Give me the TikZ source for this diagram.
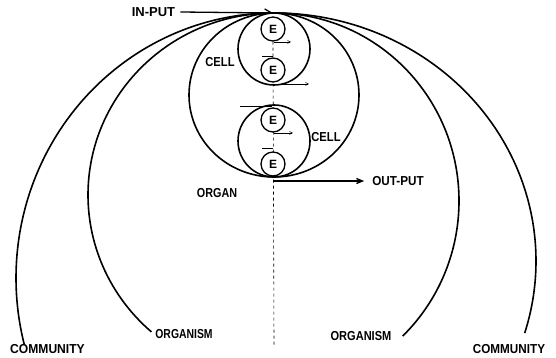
\documentclass[tikz,border=0pt]{standalone}
\usepackage{fontspec}
\usepackage{graphicx}
\setmainfont{Liberation Sans}
\usetikzlibrary{arrows.meta,shapes.geometric}
\newcommand\sqz[2]{\scalebox{#1}[1]{#2}}
\begin{document}
\begin{tikzpicture}[x=1pt,y=1pt,
  heavy/.style={line width=1.6pt},
  flow/.style={line width=0.5pt,-{Straight Barb[length=3pt,width=3pt]}},
  enz/.style={circle,draw,line width=1.3pt,fill=white,minimum size=24pt,inner sep=0pt,font=\fontsize{12}{12}\selectfont\bfseries},
  lbl/.style={inner sep=0pt,font=\fontsize{13}{13}\selectfont\bfseries}]
\useasboundingbox (0,0) rectangle (556,358);
% common top point and bottom ends
\coordinate (T) at (274,345);
\coordinate (B) at (274,177);
\coordinate (dashend) at (274,13);
% organ and cells
\node[ellipse,draw,heavy,minimum width=170pt,minimum height=164pt,inner sep=0pt] (organ) at (274,263) {};
\node[circle,draw,heavy,minimum size=72pt,inner sep=0pt] (cellA) at (274,309) {};
\node[circle,draw,heavy,minimum size=72pt,inner sep=0pt] (cellB) at (274,217) {};
% dashed axis
\node[enz] (E1) at (273,329) {E};
\draw[dashed,line width=0.6pt] (E1.south) -- (dashend);
\node[enz] (E2) at (273,288) {E};
\node[enz] (E3) at (273,238) {E};
\node[enz] (E4) at (273,194) {E};
% big arcs
\draw[heavy] (T) arc[start angle=90,end angle=194.6,x radius=258pt,y radius=265pt] coordinate (commL);
\draw[heavy] (T) arc[start angle=90,end angle=228.8,x radius=186pt,y radius=182pt] coordinate (orgL);
\draw[heavy] (T) arc[start angle=90,end angle=-16.9,x radius=262pt,y radius=248pt] coordinate (commR);
\draw[heavy] (T) arc[start angle=90,end angle=-45.9,x radius=185pt,y radius=188pt] coordinate (orgR);
% small flow arrows
\coordinate (f1a) at (274,316); \coordinate (f1b) at (291,316);
\coordinate (f2a) at (262,302); \coordinate (f2b) at (273,302);
\coordinate (f3a) at (276,274); \coordinate (f3b) at (309,274);
\coordinate (f4a) at (240,252); \coordinate (f4b) at (272,252);
\coordinate (f5a) at (274,225); \coordinate (f5b) at (293,225);
\coordinate (f6a) at (262,210); \coordinate (f6b) at (273,210);
\draw[flow] (f1a) -- (f1b);
\draw[line width=0.5pt] (f2a) -- (f2b);
\draw[flow] (f3a) -- (f3b);
\draw[line width=0.5pt] (f4a) -- (f4b);
\draw[flow] (f5a) -- (f5b);
\draw[line width=0.5pt] (f6a) -- (f6b);
% labels
\node[lbl] (inp) at (153.5,346) {IN-PUT};
\node[lbl] (outp) at (398,177) {\sqz{0.9}{OUT-PUT}};
\node[lbl] (cellAl) at (220,296) {\sqz{0.86}{CELL}};
\node[lbl] (cellBl) at (326,220.5) {\sqz{0.86}{CELL}};
\node[lbl] (organl) at (217,165) {\sqz{0.83}{ORGAN}};
\node[lbl] (orgLl) at (184,24) {\sqz{0.8}{ORGANISM}};
\node[lbl] (orgRl) at (361,22) {\sqz{0.85}{ORGANISM}};
\node[lbl] (commLl) at (47.5,9) {\sqz{0.93}{COMMUNITY}};
\node[lbl] (commRl) at (509,9) {\sqz{0.9}{COMMUNITY}};
% input / output arrows
\draw[line width=1.3pt,-{Straight Barb[left,length=7pt,width=8pt]}] (inp.east) ++(5,0) coordinate (inS) -- (T);
\draw[line width=1.3pt,-{Straight Barb[length=6pt,width=5pt]},shorten >=8pt] (B) -- (outp.west);
\end{tikzpicture}
\end{document}
